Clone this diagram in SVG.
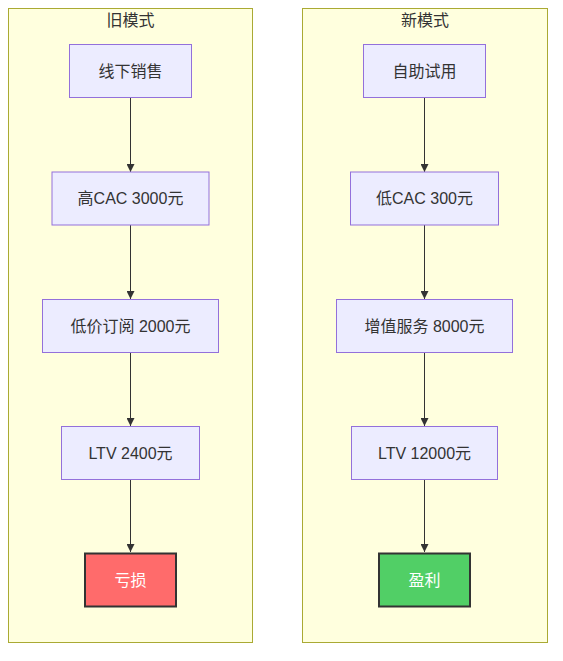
<svg xmlns="http://www.w3.org/2000/svg" width="563" height="661" viewBox="0 0 563 661">
<style>
.cluster{fill:#ffffde;stroke:#aaaa33;stroke-width:1}
.node{fill:#ececff;stroke:#9370db;stroke-width:1}
.bad{fill:#ff6b6b;stroke:#333333;stroke-width:2}
.good{fill:#51cf66;stroke:#333333;stroke-width:2}
text{font-family:"Liberation Sans","Noto Sans CJK SC",sans-serif;font-size:16px;fill:#333333;text-anchor:middle;dominant-baseline:central}
.w{fill:#ffffff}
.edge{stroke:#333333;stroke-width:1;fill:none}
</style>
<defs>
<marker id="arrow" viewBox="0 0 10 10" refX="10" refY="5" markerWidth="8" markerHeight="8" markerUnits="userSpaceOnUse" orient="auto">
<path d="M0,0 L10,5 L0,10 z" fill="#333333"/>
</marker>
</defs>
<g id="cluster-old">
<rect class="cluster" x="8.5" y="8.5" width="244" height="634"/>
<text x="130.5" y="20">旧模式</text>
</g>
<g id="cluster-new">
<rect class="cluster" x="302.5" y="8.5" width="245" height="634"/>
<text x="425" y="20">新模式</text>
</g>
<g id="connectors">
<path class="edge" d="M130.5,98 L130.5,172" marker-end="url(#arrow)"/>
<path class="edge" d="M130.5,225 L130.5,299" marker-end="url(#arrow)"/>
<path class="edge" d="M130.5,352 L130.5,426" marker-end="url(#arrow)"/>
<path class="edge" d="M130.5,479 L130.5,552" marker-end="url(#arrow)"/>
<path class="edge" d="M424.5,98 L424.5,172" marker-end="url(#arrow)"/>
<path class="edge" d="M424.5,225 L424.5,299" marker-end="url(#arrow)"/>
<path class="edge" d="M424.5,352 L424.5,426" marker-end="url(#arrow)"/>
<path class="edge" d="M424.5,479 L424.5,552" marker-end="url(#arrow)"/>
</g>
<g id="A1"><rect class="node" x="69.5" y="44.5" width="122" height="53"/><text x="130.5" y="71">线下销售</text></g>
<g id="A2"><rect class="node" x="52" y="172" width="157" height="53"/><text x="130.5" y="198.5">高CAC 3000元</text></g>
<g id="A3"><rect class="node" x="42.5" y="299.5" width="176" height="53"/><text x="130.5" y="326">低价订阅 2000元</text></g>
<g id="A4"><rect class="node" x="61.5" y="426.5" width="138" height="53"/><text x="130.5" y="453">LTV 2400元</text></g>
<g id="A5"><rect class="bad" x="85" y="553.5" width="91" height="53"/><text class="w" x="130.5" y="580">亏损</text></g>
<g id="B1"><rect class="node" x="363.5" y="44.5" width="122" height="53"/><text x="424.5" y="71">自助试用</text></g>
<g id="B2"><rect class="node" x="350.5" y="172" width="148" height="53"/><text x="424.5" y="198.5">低CAC 300元</text></g>
<g id="B3"><rect class="node" x="336.5" y="299.5" width="176" height="53"/><text x="424.5" y="326">增值服务 8000元</text></g>
<g id="B4"><rect class="node" x="351.5" y="426.5" width="146" height="53"/><text x="424.5" y="453">LTV 12000元</text></g>
<g id="B5"><rect class="good" x="379" y="553.5" width="91" height="53"/><text class="w" x="424.5" y="580">盈利</text></g>
</svg>
